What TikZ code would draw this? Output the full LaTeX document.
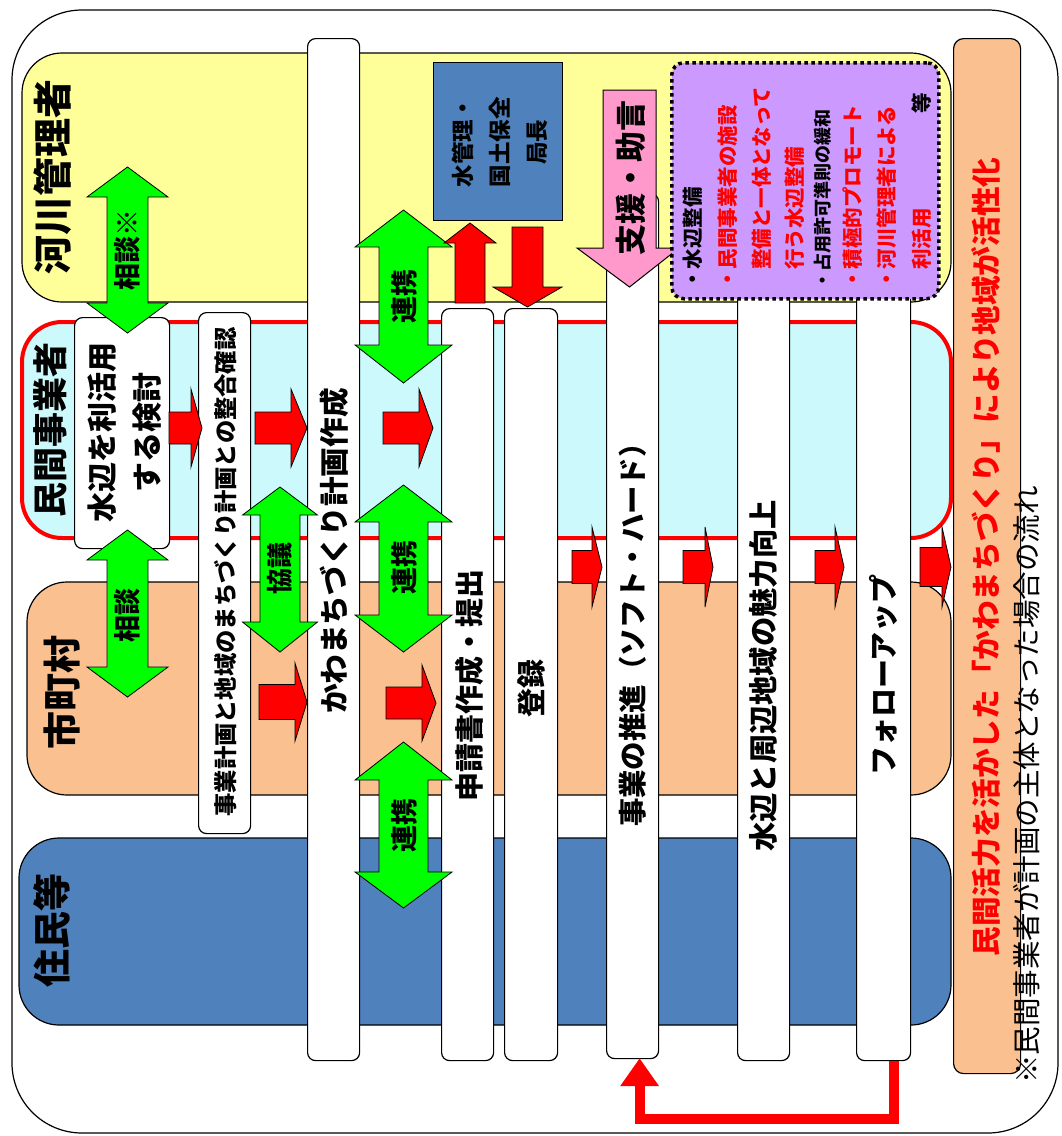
\documentclass[tikz,border=0pt]{standalone}
\usepackage{fontspec}
\setmainfont{Noto Sans CJK JP}
\usetikzlibrary{arrows.meta}
\definecolor{laneY}{HTML}{FFFF99}
\definecolor{laneC}{HTML}{CCFAFC}
\definecolor{laneP}{HTML}{FAC090}
\definecolor{laneB}{HTML}{4F81BD}
\definecolor{grn}{HTML}{00FF00}
\definecolor{pnk}{HTML}{FF99CC}
\definecolor{prp}{HTML}{CC99FF}
\newcommand\jfs[1]{\fontsize{#1pt}{#1pt}\selectfont}
% green double arrow: cx, half shaft, half head, top tip, top base, bottom base, bottom tip
\newcommand\garrow[7]{\draw[garrow] (#1-#3,#5) -- (#1,#4) -- (#1+#3,#5) -- (#1+#2,#5) -- (#1+#2,#6) -- (#1+#3,#6) -- (#1,#7) -- (#1-#3,#6) -- (#1-#2,#6) -- (#1-#2,#5) -- cycle;}
% red right arrow: x start, head base, tip, cy, half shaft, half head
\newcommand\rarrow[6]{\draw[rarrow] (#1,#4-#5) -- (#2,#4-#5) -- (#2,#4-#6) -- (#3,#4) -- (#2,#4+#6) -- (#2,#4+#5) -- (#1,#4+#5) -- cycle;}
\tikzset{
  outerbox/.style={draw=black, line width=1.2pt, rounded corners=70pt, fill=white},
  lanebox/.style={draw=black, line width=1.2pt, rounded corners=40pt},
  colbox/.style={draw=black, fill=white, line width=1.2pt, rounded corners=8pt, anchor=north west, inner sep=0pt},
  garrow/.style={draw=black, fill=grn, line width=0.8pt},
  rarrow/.style={draw=black, fill=red, line width=0.8pt},
  pkarrow/.style={draw=black, fill=pnk, line width=1pt},
  vt/.style={rotate=90, inner sep=0pt, align=center},
  ptext/.style={rotate=90, inner sep=0pt, anchor=west, font=\jfs{20.5}\bfseries},
  fb/.style={draw=red, line width=10pt, -{Triangle[width=37pt,length=28pt]}},
}
\begin{document}
\begin{tikzpicture}[x=1pt,y=-1pt]
\useasboundingbox (0,0) rectangle (1061,1136);
\draw[outerbox] (12,10) rectangle (1058,1133);
% lanes
\draw[lanebox, fill=laneY] (22,53) rectangle (951,302);
\draw[lanebox, fill=laneC, draw=red, line width=4pt] (22,322) rectangle (951,538);
\draw[lanebox, fill=laneP] (27,582) rectangle (951,795);
\draw[lanebox, fill=laneB] (19,838) rectangle (951,1025);
\node[vt, font=\jfs{39}\bfseries] (lblK) at (53,177) {河川管理者};
\node[vt, font=\jfs{35}\bfseries] (lblM) at (50,430) {民間事業者};
\node[vt, font=\jfs{38}\bfseries] (lblS) at (62,692) {市町村};
\node[vt, font=\jfs{38}\bfseries] (lblJ) at (52,930) {住民等};
% blue box
\node[draw=black, fill=laneB, line width=1.2pt, anchor=north west, inner sep=0pt, minimum width=129pt, minimum height=158pt] (bluebox) at (433,62) {};
\node[vt, font=\fontsize{22.5pt}{37pt}\selectfont\bfseries] (bluetxt) at (500,142) {水管理・\\国土保全\\局長};
% columns
\node[colbox, minimum width=95pt, minimum height=231pt] (colA) at (74,317) {};
\node[colbox, minimum width=52pt, minimum height=521pt] (colB) at (198,312) {};
\node[colbox, minimum width=52pt, minimum height=1022pt] (colC) at (307,38) {};
\node[colbox, minimum width=52pt, minimum height=752pt] (colD) at (441,308) {};
\node[colbox, minimum width=53pt, minimum height=752pt] (colE) at (504,308) {};
\node[colbox, minimum width=52pt, minimum height=865pt] (colF) at (606,193) {};
\node[colbox, minimum width=52pt, minimum height=775pt] (colG) at (737,285) {};
\node[colbox, minimum width=54pt, minimum height=775pt] (colH) at (856,285) {};
\node[colbox, fill=laneP, rounded corners=10pt, minimum width=67pt, minimum height=1035pt] (final) at (953,38) {};
% red arrows in lanes
\rarrow{169}{191}{202}{428}{16}{39}
\rarrow{255}{291}{307}{428}{16}{39}
\rarrow{383}{419}{433}{428}{16}{39}
\rarrow{259}{295}{307}{702}{17.5}{39}
\rarrow{386}{422}{436}{703}{16}{38}
% red arrows in gap
\rarrow{572}{592}{602}{567}{16.5}{40}
\rarrow{683}{705}{713}{567}{16.5}{40}
\rarrow{815}{835}{844}{567}{16.5}{40}
\rarrow{920}{942}{951}{567}{19.5}{40}
% green arrows
\garrow{127.5}{20.5}{40.5}{167}{197}{303}{333}
\garrow{127.5}{20.5}{40.5}{530}{560}{667}{697}
\garrow{280}{20}{37.5}{487}{515}{622}{652}
\garrow{403.5}{24.5}{48.5}{210}{247}{345}{383}
\garrow{403.5}{24.5}{48.5}{485}{522}{615}{652}
\garrow{403.5}{24.5}{48.5}{742}{780}{872}{908}
\node[vt, font=\jfs{27}\bfseries] (g1) at (127,250) {相談※};
\node[vt, font=\jfs{27}\bfseries] (g2) at (127,615) {相談};
\node[vt, font=\jfs{26}\bfseries] (g3) at (280,568) {協議};
\node[vt, font=\jfs{27}\bfseries] (g4) at (404,296) {連携};
\node[vt, font=\jfs{27}\bfseries] (g5) at (404,567) {連携};
\node[vt, font=\jfs{27}\bfseries] (g6) at (404,825) {連携};
% red vertical arrows
\draw[rarrow] (455,303) -- (455,243) -- (444,243) -- (470,223) -- (496,243) -- (485,243) -- (485,303) -- cycle;
\draw[rarrow] (512,227) -- (543,227) -- (543,287) -- (562,287) -- (527.5,307) -- (493,287) -- (512,287) -- cycle;
% pink arrow
\draw[pkarrow] (603,90) -- (656,90) -- (656,248) -- (679,248) -- (629.5,287) -- (577,248) -- (603,248) -- cycle;
\node[vt, font=\jfs{31}\bfseries] (pinktxt) at (631,178) {支援・助言};
% purple box
\node[draw=black, fill=prp, line width=3.5pt, dash pattern=on 3.5pt off 3.5pt, rounded corners=12pt, anchor=north west, inner sep=0pt, minimum width=267pt, minimum height=236pt] (purple) at (670,61) {};
\node[ptext] (p1) at (693,290) {・水辺整備};
\node[ptext, text=red] (p2) at (728,290) {・民間事業者の施設};
\node[ptext, text=red] (p3) at (762,270) {整備と一体となって};
\node[ptext, text=red] (p4) at (795,270) {行う水辺整備};
\node[ptext, font=\jfs{18}\bfseries] (p5) at (823,290) {・占用許可準則の緩和};
\node[ptext, text=red] (p6) at (853,290) {・積極的プロモート};
\node[ptext, text=red] (p7) at (887,290) {・河川管理者による};
\node[ptext, text=red] (p8) at (922,270) {利活用};
\node[vt, font=\jfs{20.5}\bfseries] (p9) at (922,103) {等};
% column texts
\node[vt, font=\fontsize{30pt}{45pt}\selectfont\bfseries] (tA) at (125,432) {水辺を利活用\\する検討};
\node[vt, font=\jfs{23.3}\bfseries] (tB) at (226,572) {事業計画と地域のまちづくり計画との整合確認};
\node[vt, font=\jfs{29.6}\bfseries] (tC) at (334,551) {かわまちづくり計画作成};
\node[vt, font=\jfs{29}\bfseries] (tD) at (469,685) {申請書作成・提出};
\node[vt, font=\jfs{29}\bfseries] (tE) at (531,688) {登録};
\node[vt, font=\jfs{28.4}\bfseries] (tF) at (633,628) {事業の推進（ソフト・ハード）};
\node[vt, font=\jfs{29.3}\bfseries] (tG) at (763,676) {水辺と周辺地域の魅力向上};
\node[vt, font=\jfs{29}\bfseries] (tH) at (883,675) {フォローアップ};
\node[vt, font=\jfs{29.6}\bfseries, text=red] (tFin) at (986,557) {民間活力を活かした「かわまちづくり」により地域が活性化};
% feedback arrow
\draw[fb] ([xshift=10pt]colH.south) -- ++(0,58) -| ([xshift=7pt,yshift=1pt]colF.south);
% footnote
\node[vt, font=\jfs{28.5}] (note) at (1027,785) {※民間事業者が計画の主体となった場合の流れ};
\end{tikzpicture}
\end{document}
